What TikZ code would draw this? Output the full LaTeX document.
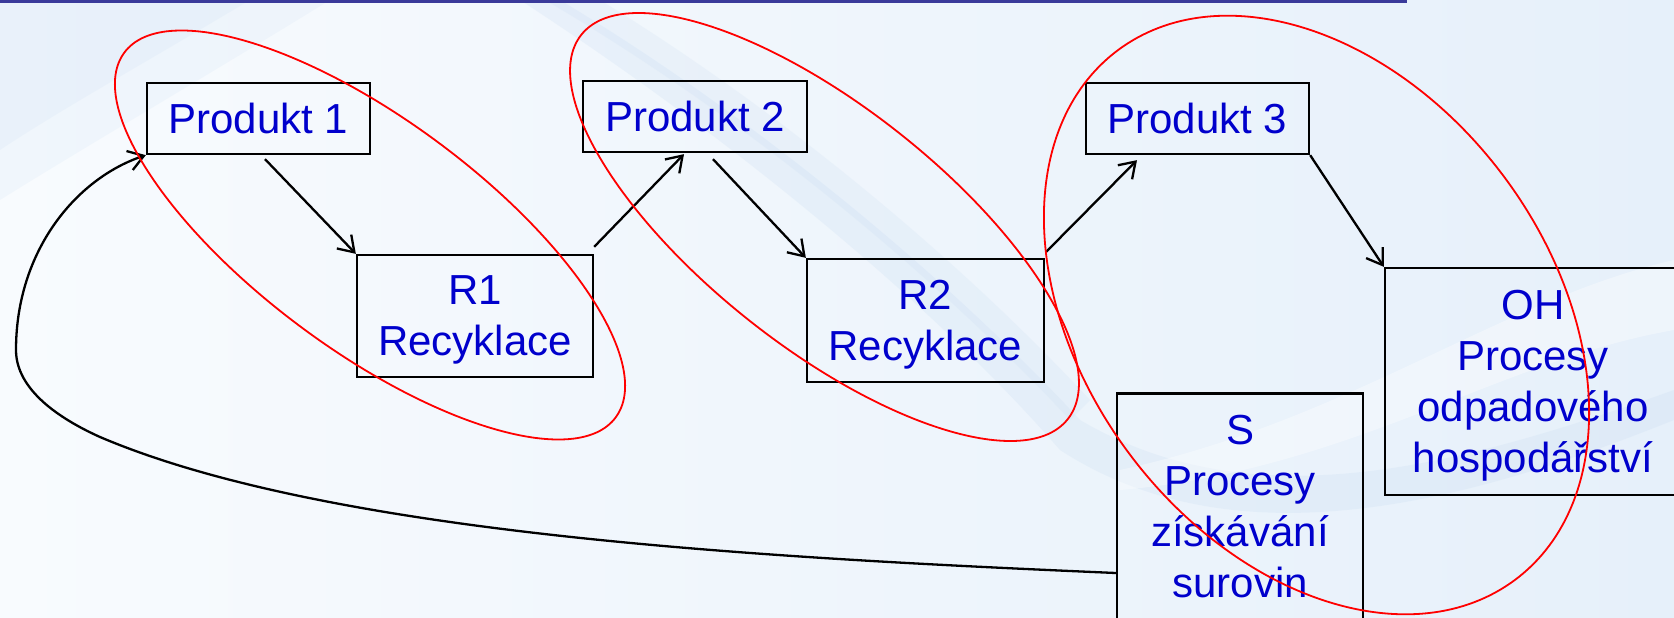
\documentclass[tikz,border=0pt]{standalone}
\usepackage{fontspec}
\setmainfont{Liberation Sans}
\usetikzlibrary{arrows.meta,calc}
\definecolor{txtblue}{RGB}{0,0,204}
\definecolor{barblue}{RGB}{58,58,154}
\definecolor{bgL}{RGB}{248,251,254}
\definecolor{bgR}{RGB}{230,240,250}
\definecolor{band}{RGB}{188,212,238}
\definecolor{ellred}{RGB}{255,0,0}
\newcommand\nodp[1]{\raisebox{0pt}[\height][0pt]{#1}}
\begin{document}
\begin{tikzpicture}[x=1pt,y=-1pt,
  box/.style={draw=black, line width=2.3pt, rectangle, inner sep=0pt, align=center,
    text=txtblue, font=\fontsize{42}{51}\selectfont},
  conn/.style={draw=black, line width=2.3pt, -{Straight Barb[length=15pt,width=20pt]}},
  ring/.style={draw=ellred, line width=1.8pt}]
\useasboundingbox (0,0) rectangle (1674,618);
% background
\shade[left color=bgL, right color=bgR] (0,0) rectangle (1674,618);
\fill[band, opacity=0.12] (0,0) -- (330,0) .. controls (200,80) and (80,150) .. (0,200) -- cycle;
\fill[band, opacity=0.12] (0,0) -- (250,0) .. controls (150,60) and (60,110) .. (0,150) -- cycle;
\fill[band, opacity=0.18] (560,0) .. controls (760,120) and (950,280) .. (1080,420)
   .. controls (1250,520) and (1450,470) .. (1674,390) -- (1674,420)
   .. controls (1450,510) and (1230,560) .. (1060,450)
   .. controls (930,300) and (720,130) .. (520,0) -- cycle;
\fill[band, opacity=0.15] (600,0) .. controls (780,110) and (960,260) .. (1090,400)
   -- (1070,420) .. controls (940,280) and (750,120) .. (545,0) -- cycle;
\fill[white, opacity=0.35] (1120,470) .. controls (1350,420) and (1500,300) .. (1674,260)
   -- (1674,330) .. controls (1500,360) and (1350,470) .. (1120,490) -- cycle;
\fill[barblue] (0,0) rectangle (1407,3.5);
% boxes
\node[box, minimum width=223pt, minimum height=71pt] (P1) at (258.5,118.5) {Produkt 1};
\node[box, minimum width=224pt, minimum height=71pt] (P2) at (695,116.5) {Produkt 2};
\node[box, minimum width=223pt, minimum height=71pt] (P3) at (1197.5,118.5) {Produkt 3};
\node[box, minimum width=236pt, minimum height=122pt] (R1) at (475,316) {R1\\\nodp{Recyklace}};
\node[box, minimum width=237pt, minimum height=123pt] (R2) at (925.5,320.5) {R2\\\nodp{Recyklace}};
\node[box, minimum width=296pt, minimum height=227pt] (OH) at (1533,381.5) {OH\\Procesy\\odpadového\\\nodp{hospodářství}};
\node[box, minimum width=246pt, minimum height=226pt] (S) at (1240,506.5) {S\\Procesy\\získávání\\surovin};
% connectors
\draw[conn] ([shift={(6.5,4)}]P1.south) -- (R1.north west);
\draw[conn] ([shift={(0,-7)}]R1.north east) -- ([shift={(-11,1)}]P2.south);
\draw[conn] ([shift={(18,6)}]P2.south) -- (R2.north west);
\draw[conn] ([shift={(1,-6)}]R2.north east) -- ([shift={(-60.5,5)}]P3.south);
\draw[conn] (P3.south east) -- (OH.north west);
\draw[conn] ([shift={(0,66.5)}]S.west) .. controls (767,558) and (330,535) .. (100,437)
   .. controls (60,419) and (16,390) .. (16,350)
   .. controls (16,250) and (77,178) .. (P1.south west);
% red ellipses
\draw[ring, rotate around={-36.6:(370,235)}] (370,235) ellipse [x radius=306pt, y radius=115pt];
\draw[ring, rotate around={-38.3:(824.5,227)}] (824.5,227) ellipse [x radius=310pt, y radius=120pt];
\draw[ring, rotate around={-53:(1316.5,315)}] (1316.5,315) ellipse [x radius=331pt, y radius=233pt];
\end{tikzpicture}
\end{document}
